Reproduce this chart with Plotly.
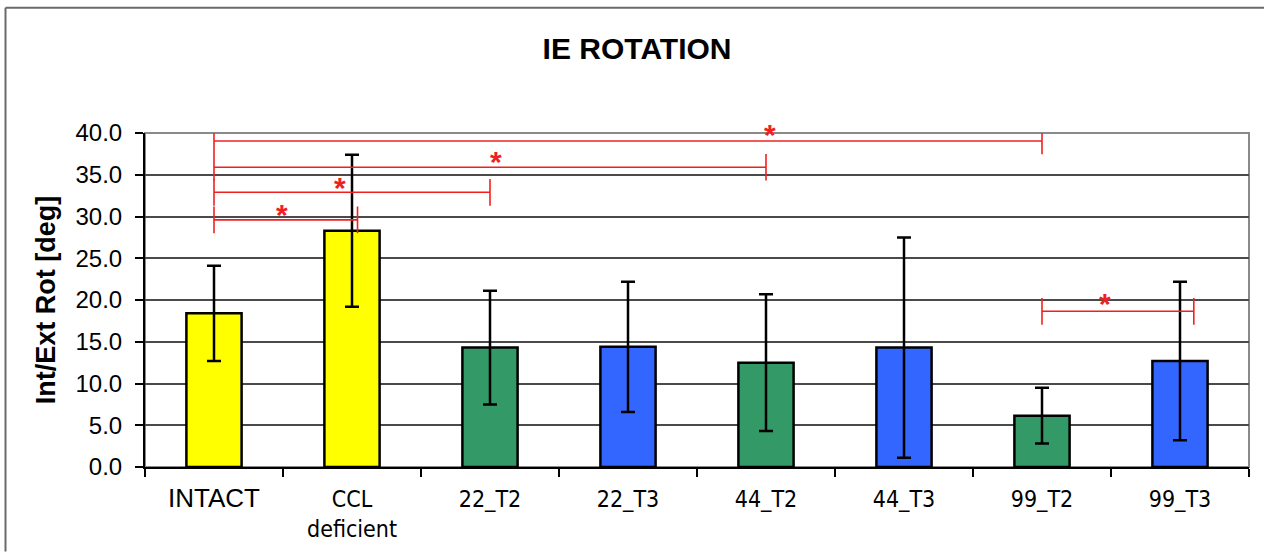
import plotly.graph_objects as go

# ---- data ----
categories = ["INTACT", "CCL deficient", "22_T2", "22_T3", "44_T2", "44_T3", "99_T2", "99_T3"]
tick_labels = ["<span style='font-family:Liberation Sans;font-size:26px'>INTACT</span>",
               "CCL<br>deficient", "22_T2", "22_T3", "44_T2", "44_T3", "99_T2", "99_T3"]
means = [18.4, 28.3, 14.3, 14.4, 12.5, 14.3, 6.15, 12.7]
errors = [5.7, 9.1, 6.8, 7.8, 8.2, 13.2, 3.35, 9.5]
bar_colors = ["#FFFF00", "#FFFF00", "#339966", "#3366FF", "#339966", "#3366FF", "#339966", "#3366FF"]

# significance brackets (category index positions)
sig_start = [0, 0, 0, 0, 6]
sig_end = [6, 4, 2, 1.04, 7.1]
sig_level = [39.05, 35.9, 32.9, 29.6, 18.65]
star_x = [4.03, 2.04, 0.91, 0.49, 6.46]
star_y = [40.8, 37.5, 34.4, 31.2, 20.5]
bracket_half = 1.6
y_max = 40

fig = go.Figure()
fig.add_trace(go.Bar(
    x=categories, y=means,
    width=0.4,
    marker=dict(color=bar_colors, line=dict(color="black", width=2.5)),
    error_y=dict(type="data", array=errors, visible=True, color="black", thickness=2.5, width=7),
    showlegend=False,
))

red = "#F02020"
for s, e, lv in zip(sig_start, sig_end, sig_level):
    fig.add_shape(type="line", xref="x", yref="y", x0=s, x1=e, y0=lv, y1=lv,
                  line=dict(color=red, width=1.6), layer="above")
    for xx in (s, e):
        fig.add_shape(type="line", xref="x", yref="y", x0=xx, x1=xx,
                      y0=lv - bracket_half, y1=lv + bracket_half,
                      line=dict(color=red, width=1.6), layer="above")
for sx, sy in zip(star_x, star_y):
    # paper coordinates so that stars above the axis range are not hidden
    fig.add_annotation(x=sx, y=sy / y_max, xref="x", yref="paper", text="<b>*</b>", showarrow=False,
                       font=dict(family="Liberation Sans", size=30, color=red),
                       yanchor="middle", yshift=-8)

# plot frame (gray top/right)
fig.add_shape(type="rect", xref="paper", yref="paper", x0=0, x1=1, y0=0, y1=1,
              line=dict(color="#8a8a8a", width=2), layer="below")
# outer chart border (left & top)
W, H = 1104, 336
fig.add_shape(type="line", xref="paper", yref="paper", x0=(5.5 - 145) / W, x1=(5.5 - 145) / W,
              y0=-85 / H, y1=(469 - 7) / H,
              line=dict(color="#6a6a6a", width=2))
fig.add_shape(type="line", xref="paper", yref="paper", x0=(5.5 - 145) / W, x1=1 + 20 / W,
              y0=(469 - 7) / H, y1=(469 - 7) / H,
              line=dict(color="#6a6a6a", width=2))

fig.update_layout(
    width=1264, height=554,
    margin=dict(l=145, r=15, t=133, b=85, pad=0),
    paper_bgcolor="white", plot_bgcolor="white",
    title=dict(text="<b>IE ROTATION</b>", x=0.504, xref="container", xanchor="center",
               y=1 - 48 / 554, yref="container", yanchor="middle",
               font=dict(family="Liberation Sans", size=30, color="black")),
    xaxis=dict(
        type="category",
        tickmode="array", tickvals=categories, ticktext=tick_labels,
        range=[-0.5, len(categories) - 0.5],
        showline=True, linecolor="black", linewidth=2,
        ticks="outside", ticklen=8, tickwidth=1.5, tickcolor="black",
        tickson="boundaries",
        showgrid=False, zeroline=False,
        tickfont=dict(family="DejaVu Sans Condensed", size=23, color="black"),
        ticklabelstandoff=10,
    ),
    yaxis=dict(
        range=[0, y_max], dtick=5, tickformat=".1f",
        showline=True, linecolor="black", linewidth=2,
        ticks="outside", ticklen=8, tickwidth=1.5, tickcolor="black",
        showgrid=True, gridcolor="#4a4a4a", gridwidth=1.5,
        zeroline=False,
        tickfont=dict(family="Liberation Sans", size=24, color="black"),
        ticklabelstandoff=8,
        title=dict(text="<b>Int/Ext Rot [deg]</b>", standoff=12,
                   font=dict(family="Liberation Sans", size=27, color="black")),
    ),
)

fig.write_html("out.html", config={"displayModeBar": False},
               post_script="document.body.style.margin='0';document.body.style.overflow='hidden';")
